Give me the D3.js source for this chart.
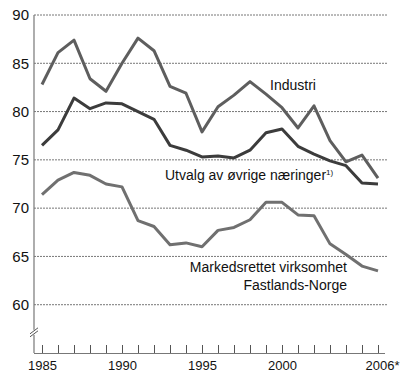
<!DOCTYPE html>
<html><head><meta charset="utf-8">
<script src="https://cdn.jsdelivr.net/npm/d3@7"></script>
<style>body{margin:0;background:#fff}svg{display:block}text{font-family:"Liberation Sans",Arial,sans-serif}</style>
</head><body><svg id="c" width="400" height="376"></svg>
<script>
const years = d3.range(1985, 2007);
const industri = [82.8,86.1,87.4,83.4,82.1,85.0,87.6,86.3,82.6,81.9,77.9,80.5,81.7,83.1,81.8,80.4,78.3,80.6,77.0,74.8,75.5,73.1];
const utvalg = [76.5,78.1,81.4,80.3,80.9,80.8,80.0,79.2,76.5,76.0,75.3,75.4,75.2,76.0,77.8,78.2,76.4,75.6,74.9,74.4,72.6,72.5];
const markedsrettet = [71.4,72.9,73.7,73.4,72.5,72.2,68.7,68.1,66.2,66.4,66.0,67.7,68.0,68.8,70.6,70.6,69.3,69.2,66.3,65.2,64.0,63.5];
const yTicks = [60,65,70,75,80,85,90];
const xTickLabels = [1985,1990,1995,2000,2006];

const svg = d3.select("#c");
const x = d3.scaleLinear().domain([1985,2006]).range([42,378]);
const y = d3.scaleLinear().domain([55,90]).range([353,15]);
const axisX0 = 34, gridEnd = 387;

// gridlines
svg.append("g").selectAll("line").data(yTicks).join("line")
  .attr("x1",axisX0).attr("x2",gridEnd)
  .attr("y1",d=>y(d)).attr("y2",d=>y(d))
  .attr("stroke","#777").attr("stroke-width",1).attr("stroke-dasharray","2,1");

// y axis
const ya = svg.append("g").attr("transform",`translate(${axisX0},0)`)
  .call(d3.axisLeft(y).tickValues(yTicks).tickSize(0).tickPadding(5));
ya.select(".domain").remove();
ya.selectAll("text").attr("font-size",15).attr("fill","#111").attr("font-family","Liberation Sans, Arial, sans-serif");
svg.append("line").attr("x1",axisX0).attr("x2",axisX0).attr("y1",15).attr("y2",353).attr("stroke","#777").attr("stroke-width",1.2);

// axis break
svg.append("rect").attr("x",axisX0-2).attr("y",y(57.4)).attr("width",4).attr("height",5).attr("fill","#fff");
[0,3].forEach(o=>{
  svg.append("line").attr("x1",axisX0-4).attr("x2",axisX0+4)
   .attr("y1",y(57.4)+o+4).attr("y2",y(57.4)+o-2).attr("stroke","#555").attr("stroke-width",1);
});

// x axis
const xa = svg.append("g").attr("transform",`translate(0,${y(55)})`)
  .call(d3.axisBottom(x).tickValues(years).tickSize(-8).tickFormat(d=>xTickLabels.includes(d)?(d===2006?"2006*":String(d)):"").tickPadding(8));
xa.select(".domain").attr("d",`M${axisX0},0.5H385`).attr("stroke","#777").attr("stroke-width",1.2);
xa.selectAll(".tick line").attr("stroke","#555");
xa.selectAll("text").attr("font-size",13).attr("fill","#111").attr("font-family","Liberation Sans, Arial, sans-serif")
  .attr("dx",d=>d===2006?4:0);

// lines
const line = d3.line().x((d,i)=>x(years[i])).y(d=>y(d));
const series = [
  {v:markedsrettet,c:"#707070"},
  {v:industri,c:"#5e5e5e"},
  {v:utvalg,c:"#3c3c3c"}
];
svg.append("g").selectAll("path").data(series).join("path")
  .attr("d",d=>line(d.v)).attr("fill","none").attr("stroke",d=>d.c)
  .attr("stroke-width",3).attr("stroke-linejoin","round");

// labels
const lab = svg.append("g").attr("font-size",14).attr("fill","#111");
lab.append("text").attr("x",270).attr("y",90).text("Industri");
const t = lab.append("text").attr("x",165).attr("y",180).text("Utvalg av øvrige næringer");
t.append("tspan").attr("font-size",8).attr("dy",-5).text("1)");
lab.append("text").attr("x",347).attr("y",272).attr("text-anchor","end").text("Markedsrettet virksomhet");
lab.append("text").attr("x",347).attr("y",290).attr("text-anchor","end").text("Fastlands-Norge");
</script></body></html>
